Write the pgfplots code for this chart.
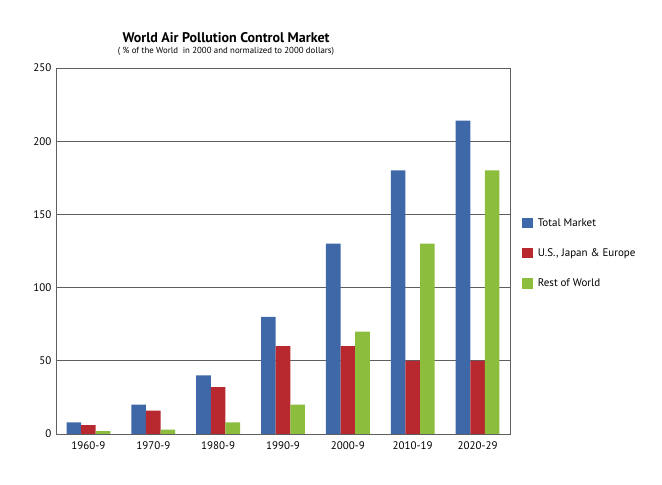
\documentclass[border=0pt]{standalone}
\usepackage{pgfplots}
\pgfplotsset{compat=1.18}
\usepackage{fontspec}
\setmainfont{PT Sans}
\definecolor{cblue}{HTML}{3F68A9}
\definecolor{cred}{HTML}{B7292F}
\definecolor{cgreen}{HTML}{8CBD3C}
\definecolor{cline}{HTML}{5F5F5F}
\begin{document}
\begin{tikzpicture}[x=1pt,y=1pt]
\useasboundingbox (0,0) rectangle (662,485);
\node[font=\fontsize{14}{16}\selectfont\bfseries] at (226,447) {World Air Pollution Control Market};
\node[font=\fontsize{8.8}{10}\selectfont] at (226,434) {( \% of the World\ \ in 2000 and normalized to 2000 dollars)};
\begin{axis}[
  at={(56pt,51pt)}, anchor=south west,
  scale only axis, width=454pt, height=366pt,
  ybar=0pt, bar width=14.6pt,
  xmin=-0.5, xmax=6.5, ymin=0, ymax=250,
  xtick=data, xticklabels={1960-9,1970-9,1980-9,1990-9,2000-9,2010-19,2020-29},
  ytick={0,50,100,150,200,250},
  major tick length=0pt,
  ymajorgrids, grid style={cline, line width=0.9pt},
  axis line style={cline, line width=0.9pt},
  tick label style={font=\fontsize{11}{13}\selectfont},
  /pgf/number format/assume math mode=true,
  yticklabel style={xshift=-1pt},
  xticklabel style={yshift=-4pt},
  legend style={at={(1.02,0.60)}, anchor=north west, draw=none, fill=none,
    font=\fontsize{11}{13}\selectfont, row sep=17pt, legend cell align=left,
    nodes={inner xsep=5pt}},
  legend image code/.code={\fill[#1] (0pt,-5pt) rectangle (10.5pt,5.5pt);},
]
\addplot[fill=cblue, draw=none] coordinates {(0,8) (1,20) (2,40) (3,80) (4,130) (5,180) (6,214)};
\addplot[fill=cred, draw=none] coordinates {(0,6) (1,16) (2,32) (3,60) (4,60) (5,50) (6,50)};
\addplot[fill=cgreen, draw=none] coordinates {(0,2) (1,3) (2,8) (3,20) (4,70) (5,130) (6,180)};
\legend{Total Market, {U.S., Japan \& Europe}, Rest of World}
\end{axis}
\end{tikzpicture}
\end{document}
